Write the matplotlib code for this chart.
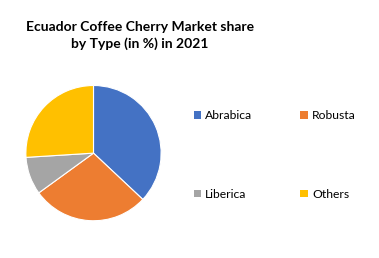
import matplotlib
matplotlib.use("Agg")
import matplotlib.pyplot as plt
from matplotlib.patches import Patch

categories = ["Abrabica", "Robusta", "Liberica", "Others"]
shares = [37, 28, 9, 26]
colors = ["#4472C4", "#ED7D31", "#A5A5A5", "#FFC000"]
title = "Ecuador Coffee Cherry Market share\nby Type (in %) in 2021"

plt.rcParams['font.family'] = ['Lato', 'DejaVu Sans']

fig = plt.figure(figsize=(3.79, 2.58), dpi=100)
ax = fig.add_axes([0.0699, 0.147, 0.3536, 0.519])
ax.pie(shares, colors=colors, startangle=90, counterclock=False, radius=1,
       wedgeprops=dict(edgecolor="white", linewidth=0.8))
ax.set_xlim(-0.99, 0.99)
ax.set_ylim(-0.99, 0.99)
ax.set_aspect("equal")
ax.axis("off")

fig.text(0.369, 0.864, title, ha="center", va="center", fontsize=10,
         fontweight="bold", linespacing=1.4)

handles = [Patch(facecolor=c, edgecolor="none") for c in colors]
order = [0, 2, 1, 3]
fig.legend([handles[i] for i in order], [categories[i] for i in order],
           ncol=2, loc="center left",
           bbox_to_anchor=(0.482, 0.4), frameon=False, fontsize=8.7,
           handlelength=0.6, handleheight=0.6, handletextpad=0.35,
           columnspacing=4.0, labelspacing=5.6)

fig.savefig("out.png", dpi=100)
